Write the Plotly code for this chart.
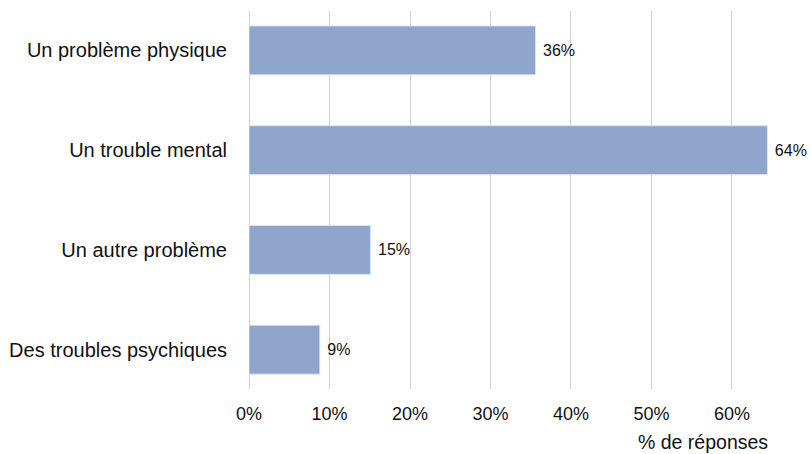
import plotly.graph_objects as go

categories = ["Un problème physique", "Un trouble mental", "Un autre problème", "Des troubles psychiques"]
values = [35.6, 64.4, 15.1, 8.8]
tick_vals = [0, 10, 20, 30, 40, 50, 60]
tick_text = ["0%", "10%", "20%", "30%", "40%", "50%", "60%"]
axis_title = "% de réponses"

FONT = "Liberation Sans, Arial, sans-serif"

fig = go.Figure(go.Bar(
    y=categories,
    x=values,
    orientation="h",
    width=0.49,
    marker=dict(color="#8FA5CB", line=dict(color="rgba(220,228,242,0.9)", width=1)),
    texttemplate="\u00a0%{x:.0f}%",
    textposition="outside",
    cliponaxis=False,
    textfont=dict(family=FONT, size=16, color="#111111"),
))

fig.update_layout(
    width=811, height=454,
    margin=dict(l=249, r=6, t=11, b=65),
    plot_bgcolor="white", paper_bgcolor="white",
    showlegend=False,
    font=dict(family=FONT, color="#111111"),
    xaxis=dict(
        range=[0, 69.07],
        tickvals=tick_vals, ticktext=tick_text,
        showgrid=True, gridcolor="#cfcfcf", gridwidth=1,
        zeroline=True, zerolinecolor="#cfcfcf", zerolinewidth=1,
        showline=False,
        ticks="outside", ticklen=8, tickcolor="rgba(0,0,0,0)",
        tickfont=dict(family=FONT, size=18, color="#111111"),
    ),
    yaxis=dict(
        categoryorder="array", categoryarray=categories,
        range=[3.394, -0.395],
        showgrid=False, zeroline=False, showline=False,
        ticks="outside", ticklen=17, tickcolor="rgba(0,0,0,0)",
        tickfont=dict(family=FONT, size=20, color="#111111"),
    ),
    annotations=[dict(
        text=axis_title, xref="paper", yref="paper",
        x=(770 - 249) / 556, y=(389 - 442) / 378,
        xanchor="right", yanchor="middle", showarrow=False,
        font=dict(family=FONT, size=19.5, color="#111111"),
    )],
)

fig.write_html(
    "out.html",
    config={"displayModeBar": False},
    post_script="document.body.style.margin='0px';document.body.style.overflow='hidden';",
)
